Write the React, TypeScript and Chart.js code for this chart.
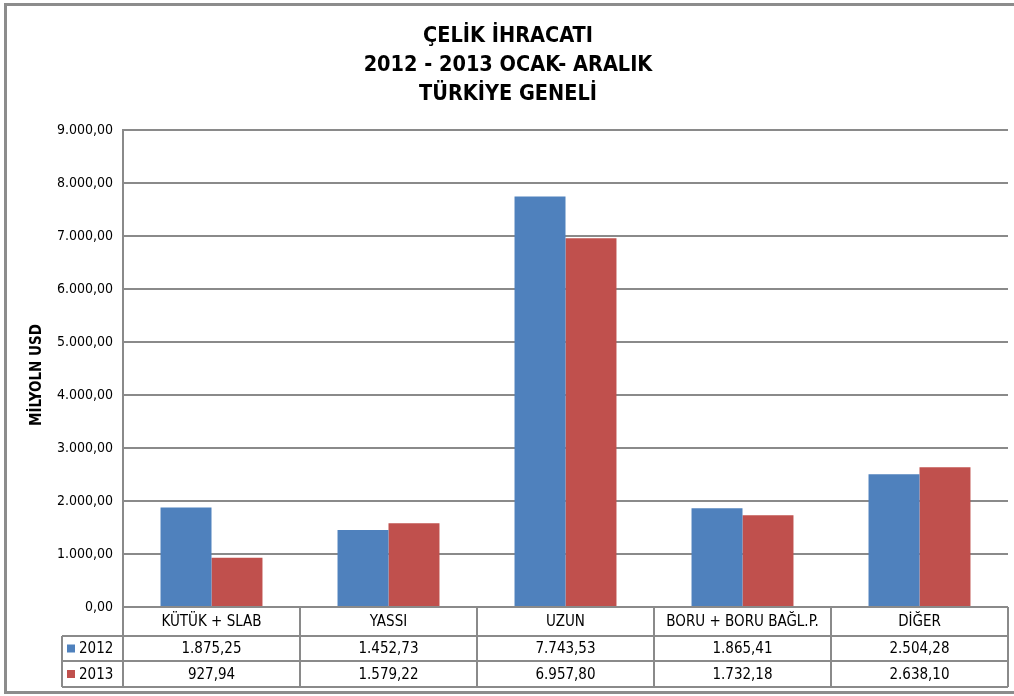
import React, { useEffect, useRef } from "react";
import { Chart, registerables } from "chart.js";

Chart.register(...registerables);

const categories = ["KÜTÜK + SLAB", "YASSI", "UZUN", "BORU + BORU BAĞL.P.", "DİĞER"];
const series2012 = [1875.25, 1452.73, 7743.53, 1865.41, 2504.28];
const series2013 = [927.94, 1579.22, 6957.8, 1732.18, 2638.1];
const seriesNames = ["2012", "2013"];
const titleLines = ["ÇELİK İHRACATI", "2012 - 2013 OCAK- ARALIK", "TÜRKİYE GENELİ"];
const yAxisTitle = "MİLYOLN USD";

const BLUE = "#4F81BD";
const RED = "#C0504D";
const GRID = "#8a8a8a";
const FONT = "'Liberation Sans Narrow', 'DejaVu Sans Condensed', 'Liberation Sans', sans-serif";

function fmt(v: number): string {
  const fixed = Math.abs(v).toFixed(2);
  const [ip, dp] = fixed.split(".");
  const withDots = ip.replace(/\B(?=(\d{3})+(?!\d))/g, ".");
  return (v < 0 ? "-" : "") + withDots + "," + dp;
}

const tablePlugin = {
  id: "tablePlugin",
  afterDraw(chart: any) {
    const ctx = chart.ctx as CanvasRenderingContext2D;
    const x = chart.scales.x;
    const area = chart.chartArea;
    const n = categories.length;
    const catW = (area.right - area.left) / n;
    const top = area.bottom;
    const hdrB = top + 29;
    const r1B = hdrB + 25;
    const r2B = r1B + 26;
    const legL = 62;
    ctx.save();
    // outer frame
    ctx.strokeStyle = "#8c8c8c";
    ctx.lineWidth = 3;
    ctx.strokeRect(5.5, 4.5, 1020, 688);

    // title
    ctx.fillStyle = "#000";
    ctx.textAlign = "center";
    ctx.textBaseline = "middle";
    ctx.font = "bold 21.5px " + FONT;
    const ys = [36, 65, 94];
    titleLines.forEach((t, i) => ctx.fillText(t, 508, ys[i]));

    // y axis title
    ctx.save();
    ctx.translate(37, 375);
    ctx.rotate(-Math.PI / 2);
    ctx.font = "bold 15px " + FONT;
    ctx.fillText(yAxisTitle, 0, 0);
    ctx.restore();

    // table lines
    ctx.strokeStyle = GRID;
    ctx.lineWidth = 2;
    const line = (x1: number, y1: number, x2: number, y2: number) => {
      ctx.beginPath();
      ctx.moveTo(x1, y1);
      ctx.lineTo(x2, y2);
      ctx.stroke();
    };
    line(area.left, top, area.right, top);
    line(legL, hdrB, area.right, hdrB);
    line(legL, r1B, area.right, r1B);
    line(legL, r2B, area.right, r2B);
    line(legL, hdrB, legL, r2B);
    for (let i = 0; i <= n; i++) {
      const xx = area.left + i * catW;
      line(xx, top, xx, r2B);
    }

    ctx.fillStyle = "#000";
    ctx.font = "15px " + FONT;
    for (let i = 0; i < n; i++) {
      const cx = x.getPixelForValue(i);
      ctx.fillText(categories[i], cx, (top + hdrB) / 2 + 1);
      ctx.fillText(fmt(series2012[i]), cx, (hdrB + r1B) / 2 + 1);
      ctx.fillText(fmt(series2013[i]), cx, (r1B + r2B) / 2 + 1);
    }
    // legend
    const rows = [
      [seriesNames[0], BLUE, (hdrB + r1B) / 2],
      [seriesNames[1], RED, (r1B + r2B) / 2],
    ] as [string, string, number][];
    ctx.textAlign = "left";
    rows.forEach(([name, col, cy]) => {
      ctx.fillStyle = col;
      ctx.fillRect(67, cy - 4, 8, 8);
      ctx.fillStyle = "#000";
      ctx.fillText(name, 79, cy + 1);
    });
    ctx.restore();
  },
};

export default function App() {
  const ref = useRef<HTMLCanvasElement>(null);
  useEffect(() => {
    document.body.style.margin = "0";
    const chart = new Chart(ref.current!, {
      type: "bar",
      data: {
        labels: categories,
        datasets: [
          { label: seriesNames[0], data: series2012, backgroundColor: BLUE, categoryPercentage: 0.576, barPercentage: 1 },
          { label: seriesNames[1], data: series2013, backgroundColor: RED, categoryPercentage: 0.576, barPercentage: 1 },
        ],
      },
      options: {
        animation: false,
        responsive: false,
        layout: { padding: { top: 130, bottom: 89, left: 0, right: 6 } },
        plugins: { legend: { display: false }, title: { display: false }, tooltip: { enabled: false } },
        scales: {
          x: { display: false },
          y: {
            min: 0,
            max: 9000,
            ticks: {
              stepSize: 1000,
              color: "#000",
              font: { family: FONT, size: 14 },
              padding: 10,
              callback: (v: any) => fmt(Number(v)),
            },
            grid: { color: GRID, lineWidth: 2, drawTicks: false },
            border: { color: GRID, width: 2 },
            afterFit: (s: any) => {
              s.width = 123;
            },
          },
        },
      },
      plugins: [tablePlugin],
    });
    return () => chart.destroy();
  }, []);
  return <canvas ref={ref} width={1014} height={696} style={{ display: "block" }} />;
}
